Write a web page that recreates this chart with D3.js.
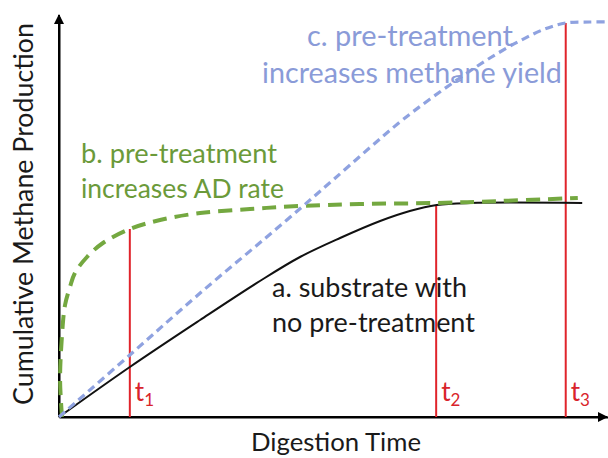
<!DOCTYPE html>
<html>
<head>
<meta charset="utf-8">
<script src="https://cdn.jsdelivr.net/npm/d3@7"></script>
<style>
  html, body { margin: 0; padding: 0; background: #fff; }
  svg { display: block; }
  text { font-family: Lato, "Open Sans", sans-serif; }
</style>
</head>
<body>
<svg id="chart" width="608" height="458"></svg>
<script>
// ---- data (time in arbitrary units 0..100, methane in arbitrary units 0..100) ----
const blackTime   = [0, 12.9, 25.7, 36.6, 43.9, 51.2, 58.5, 63.9, 68.8, 74.9, 95.3];
const blackValue  = [0, 12.5, 24.25, 34, 40, 44.75, 49, 51.5, 53, 53.5, 53.5];

const greenTime   = [0.55, 0.2, 0.55, 1.1, 2.0, 2.9, 5.1, 8.0, 12.9, 18.4, 25.7, 34.8, 43.9, 54.8, 68.7, 80.3, 94.5];
const greenValue  = [0, 9.25, 20.5, 28, 32.5, 36, 40, 43.5, 47, 49.25, 51, 52, 52.75, 53.25, 53.5, 54, 54.75];

const blueTime    = [0, 12.9, 25.3, 41.5, 49.9, 62.1, 67.6, 73.0, 78.5, 83.9, 88.5, 92.3, 96.7, 100];
const blueValue   = [0, 15.5, 30.5, 49.25, 59.25, 73.75, 79.5, 84.75, 89.75, 94, 97, 98.5, 98.75, 98.75];

const markerNames = ["1", "2", "3"];
const markerTime  = [12.9, 68.7, 92.3];
const markerTop   = [47, 53, 98.5];

const labelA = ["a. substrate with", "no pre-treatment"];
const labelB = ["b. pre-treatment", "increases AD rate"];
const labelC = ["c. pre-treatment", "increases methane yield"];
const xTitle = "Digestion Time";
const yTitle = "Cumulative Methane Production";

// ---- drawing ----
const svg = d3.select("#chart");
const x = d3.scaleLinear().domain([0, 100]).range([59, 608]);
const y = d3.scaleLinear().domain([0, 100]).range([417, 17]);

const defs = svg.append("defs");
defs.append("marker").attr("id", "arrow")
  .attr("viewBox", "0 0 10 10").attr("refX", 9).attr("refY", 5)
  .attr("markerWidth", 5).attr("markerHeight", 5).attr("orient", "auto")
  .append("path").attr("d", "M0,0 L10,5 L0,10 z").attr("fill", "#000");

function fit(sel, width) {
  const base = 20;
  sel.style("font-size", base + "px");
  const w = sel.node().getComputedTextLength();
  sel.style("font-size", (base * width / w).toFixed(2) + "px");
  return sel;
}

// axes (domain lines only)
const xAxis = svg.append("g").attr("transform", `translate(0,${y(0)})`)
  .call(d3.axisBottom(x).tickValues([]).tickSizeOuter(0));
const yAxis = svg.append("g").attr("transform", `translate(${x(0)},0)`)
  .call(d3.axisLeft(y).tickValues([]).tickSizeOuter(0));
[xAxis, yAxis].forEach(g => g.select(".domain").attr("stroke", "#000").attr("stroke-width", 2));
svg.append("line").attr("x1", x(0)).attr("y1", y(0)).attr("x2", x(0)).attr("y2", y(100) - 2)
  .attr("stroke", "#000").attr("stroke-width", 2).attr("marker-end", "url(#arrow)");
svg.append("line").attr("x1", x(0)).attr("y1", y(0)).attr("x2", x(100) - 1).attr("y2", y(0))
  .attr("stroke", "#000").attr("stroke-width", 2).attr("marker-end", "url(#arrow)");

// red marker lines
markerTime.forEach((t, i) => {
  svg.append("line")
    .attr("x1", x(t)).attr("x2", x(t))
    .attr("y1", y(0)).attr("y2", y(markerTop[i]))
    .attr("stroke", "#e0242b").attr("stroke-width", 2);
  const tx = svg.append("text").attr("x", x(t) + 5).attr("y", y(0) - 16)
    .attr("fill", "#d9242b").style("font-size", "26px");
  tx.append("tspan").text("t");
  tx.append("tspan").attr("dy", 5).style("font-size", "17px").text(markerNames[i]);
});

const cr = d3.line().x(d => x(d[0])).y(d => y(d[1])).curve(d3.curveCatmullRom.alpha(0.5));

svg.append("path").datum(blackTime.map((t, i) => [t, blackValue[i]]))
  .attr("d", cr).attr("fill", "none").attr("stroke", "#111").attr("stroke-width", 2);
svg.append("path").datum(greenTime.map((t, i) => [t, greenValue[i]]))
  .attr("d", cr).attr("fill", "none").attr("stroke", "#74a840").attr("stroke-width", 4)
  .attr("stroke-dasharray", "14,8");
svg.append("path").datum(blueTime.map((t, i) => [t, blueValue[i]]))
  .attr("d", cr).attr("fill", "none").attr("stroke", "#8fa2e0").attr("stroke-width", 3.2)
  .attr("stroke-dasharray", "8,5");

function block(lines, xs, ys, widths, color, anchor) {
  lines.forEach((s, i) => {
    const t = svg.append("text").attr("x", xs[i]).attr("y", ys[i])
      .attr("fill", color).attr("text-anchor", anchor).text(s);
    fit(t, widths[i]);
  });
}
block(labelC, [410, 412], [46, 83], [206, 300], "#8a9bd8", "middle");
block(labelB, [81, 81], [163, 198], [196, 203], "#6b9a3a", "start");
block(labelA, [272, 272], [297, 332], [195, 203], "#1a1a1a", "start");

fit(svg.append("text").attr("x", 336).attr("y", 451).attr("text-anchor", "middle")
  .attr("fill", "#1a1a1a").text(xTitle), 170);
fit(svg.append("text").attr("transform", "translate(33,214) rotate(-90)")
  .attr("text-anchor", "middle").attr("fill", "#1a1a1a").text(yTitle), 382);
</script>
</body>
</html>
